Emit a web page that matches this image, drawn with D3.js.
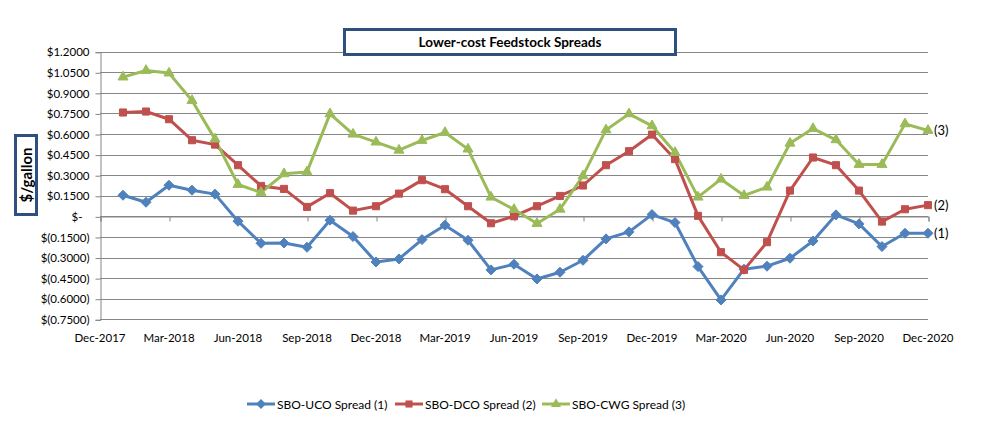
<!DOCTYPE html>
<html><head><meta charset="utf-8">
<script src="https://cdn.jsdelivr.net/npm/d3@7"></script>
<style>body{margin:0;background:#fff}svg{display:block}text{font-family:Lato,"Open Sans",sans-serif}</style>
</head><body><svg id="c" width="1004" height="438"></svg>
<script>
const months = ["Jan-2018","Feb-2018","Mar-2018","Apr-2018","May-2018","Jun-2018","Jul-2018","Aug-2018","Sep-2018","Oct-2018","Nov-2018","Dec-2018",
"Jan-2019","Feb-2019","Mar-2019","Apr-2019","May-2019","Jun-2019","Jul-2019","Aug-2019","Sep-2019","Oct-2019","Nov-2019","Dec-2019",
"Jan-2020","Feb-2020","Mar-2020","Apr-2020","May-2020","Jun-2020","Jul-2020","Aug-2020","Sep-2020","Oct-2020","Nov-2020","Dec-2020"];
const ucoSpread = [0.154,0.103,0.227,0.191,0.162,-0.035,-0.196,-0.194,-0.225,-0.028,-0.147,-0.332,
-0.310,-0.169,-0.064,-0.174,-0.390,-0.349,-0.456,-0.407,-0.320,-0.164,-0.113,0.013,
-0.045,-0.366,-0.609,-0.385,-0.363,-0.305,-0.179,0.011,-0.055,-0.220,-0.123,-0.123];
const dcoSpread = [0.757,0.764,0.708,0.555,0.523,0.373,0.222,0.200,0.069,0.169,0.042,0.074,
0.166,0.264,0.198,0.074,-0.050,0.001,0.074,0.149,0.225,0.373,0.475,0.596,
0.417,0.004,-0.261,-0.390,-0.188,0.188,0.429,0.373,0.188,-0.038,0.052,0.082];
const cwgSpread = [1.015,1.063,1.044,0.844,0.563,0.232,0.174,0.310,0.324,0.747,0.599,0.541,
0.482,0.553,0.611,0.490,0.140,0.050,-0.052,0.052,0.295,0.630,0.747,0.660,
0.465,0.140,0.271,0.152,0.213,0.533,0.640,0.558,0.378,0.378,0.674,0.626];
const xTickLabels = ["Dec-2017","Mar-2018","Jun-2018","Sep-2018","Dec-2018","Mar-2019","Jun-2019","Sep-2019","Dec-2019","Mar-2020","Jun-2020","Sep-2020","Dec-2020"];
const yTicks = [1.2,1.05,0.9,0.75,0.6,0.45,0.3,0.15,0,-0.15,-0.3,-0.45,-0.6,-0.75];
const seriesNames = ["SBO-UCO Spread (1)","SBO-DCO Spread (2)","SBO-CWG Spread (3)"];
const endLabels = ["(1)","(2)","(3)"];
const title = "Lower-cost Feedstock Spreads";
const yTitle = "$/gallon";

const colors = ["#4F81BD","#C0504D","#9BBB59"];
const symbols = [d3.symbolDiamond2, d3.symbolSquare2, d3.symbolTriangle2];
const symSize = [64,64,72];
const series = [ucoSpread, dcoSpread, cwgSpread];

const svg = d3.select("#c");
const L = 100, R = 928, T = 51.7, B = 319.3;
const x = d3.scaleLinear().domain([0,36]).range([L,R]);
const y = d3.scaleLinear().domain([-0.75,1.2]).range([B,T]);

// gridlines
svg.append("g").selectAll("line").data(yTicks).join("line")
  .attr("x1",L).attr("x2",R).attr("y1",d=>Math.round(y(d))+0.5).attr("y2",d=>Math.round(y(d))+0.5)
  .attr("stroke","#868686").attr("stroke-width",1);
// left axis
const fmt = d => d===0 ? "$-" : (d<0 ? "$(" + d3.format(".4f")(-d) + ")" : "$" + d3.format(".4f")(d));
const yAxis = d3.axisLeft(y).tickValues(yTicks).tickFormat(fmt).tickSize(5).tickPadding(6);
const ya = svg.append("g").attr("transform",`translate(${L+0.5},0.5)`).call(yAxis);
ya.select(".domain").attr("stroke","#868686");
ya.selectAll(".tick line").attr("stroke","#868686");
ya.selectAll("text").attr("font-size",11.5).attr("fill","#000").style("font-family","Lato,sans-serif")
  .attr("dx",d=>d===0?-7:0);

// x axis at zero
const tickIdx = d3.range(0,37,3);
const xAxis = d3.axisBottom(x).tickValues(tickIdx).tickFormat("").tickSize(5);
const xa = svg.append("g").attr("transform",`translate(0.5,${Math.round(y(0))+0.5})`).call(xAxis);
xa.select(".domain").attr("stroke","#868686");
xa.selectAll(".tick line").attr("stroke","#868686");
svg.append("g").selectAll("text").data(tickIdx).join("text")
  .attr("x",d=>x(d)).attr("y",342).attr("text-anchor","middle")
  .attr("font-size",11.5).text((d,i)=>xTickLabels[i]);

// lines
const line = d3.line().x((d,i)=>x(i+1)).y(d=>y(d));
series.forEach((s,k)=>{
  svg.append("path").datum(s).attr("d",line).attr("fill","none")
    .attr("stroke",colors[k]).attr("stroke-width",3).attr("stroke-linejoin","round");
});
series.forEach((s,k)=>{
  svg.append("g").selectAll("path").data(s).join("path")
    .attr("transform",(d,i)=>`translate(${x(i+1)},${y(d)})`)
    .attr("d",d3.symbol().type(symbols[k]).size(symSize[k]))
    .attr("fill",colors[k]).attr("stroke",colors[k]).attr("stroke-width",1);
});
// end labels
series.forEach((s,k)=>{
  svg.append("text").attr("x",x(36)+6).attr("y",y(s[35])+4.5)
    .attr("font-size",13).text(endLabels[k]);
});

// title box
svg.append("rect").attr("x",344.5).attr("y",29.5).attr("width",331).attr("height",25)
  .attr("fill","#fff").attr("stroke","#2F4F7F").attr("stroke-width",3);
svg.append("text").attr("x",510).attr("y",47).attr("text-anchor","middle")
  .attr("font-size",13.5).attr("font-weight","bold").text(title);

// y title box
svg.append("rect").attr("x",15.5).attr("y",135.5).attr("width",21).attr("height",79)
  .attr("fill","#fff").attr("stroke","#2F4F7F").attr("stroke-width",3);
svg.append("text").attr("transform","translate(31.5,175) rotate(-90)").attr("text-anchor","middle")
  .attr("font-size",15).attr("font-weight","bold").text(yTitle);

// legend
const legX = [247,395,542];
seriesNames.forEach((n,k)=>{
  const g = svg.append("g").attr("transform",`translate(${legX[k]},404)`);
  g.append("line").attr("x1",0).attr("x2",28).attr("stroke",colors[k]).attr("stroke-width",3);
  g.append("path").attr("transform","translate(14,0)").attr("d",d3.symbol().type(symbols[k]).size(symSize[k]))
    .attr("fill",colors[k]);
  g.append("text").attr("x",30).attr("y",4.5).attr("font-size",12).text(n);
});
</script></body></html>
